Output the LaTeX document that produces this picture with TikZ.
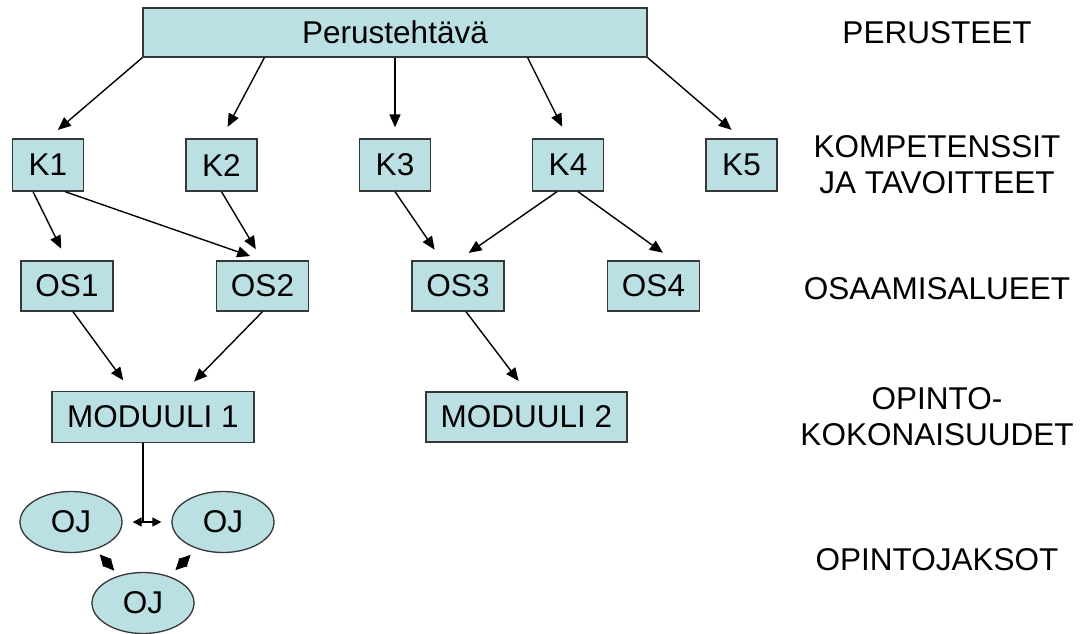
\documentclass[tikz,border=0pt]{standalone}
\usepackage{fontspec}
\setmainfont{Liberation Sans}
\usetikzlibrary{positioning,arrows.meta,shapes.geometric}
\definecolor{boxfill}{RGB}{187,224,227}
\definecolor{boxline}{RGB}{55,55,55}
\tikzset{
    box/.style={
           rectangle,
           draw=boxline, line width=1.3pt,
           fill=boxfill,
           inner sep=0pt,
           text centered,
           },
    jakso/.style={
           ellipse,
           draw=boxline, line width=1.3pt,
           fill=boxfill,
           inner sep=0pt,
           minimum width=102pt,
           minimum height=61pt,
           },
    taso/.style={align=center},
    nuoli/.style={-{Triangle[length=13pt,width=11pt]}, line width=1.4pt, shorten >=13pt},
    kaksinuoli/.style={{Triangle[length=9pt,width=9pt]}-{Triangle[length=9pt,width=9pt]}, line width=1.3pt},
    salmiakki/.style={{Triangle[length=11.5pt,width=11pt]}-{Triangle[length=11.5pt,width=11pt]}, line width=1.3pt},
}

\begin{document}
\begin{tikzpicture}[font=\fontsize{31.5}{36}\selectfont]
    \useasboundingbox[fill=white] (0,0) rectangle (1084pt,-633pt);

    % Top level: the basic task
    \node[box,    	% layout (defined above)
    minimum width=504pt, minimum height=49pt] (perustehtava)
    at (395pt,-32.5pt) {Perustehtävä};

    % Competences K1..K5
    \node[box, minimum width=71pt, minimum height=52pt,
    below of=perustehtava,
    node distance=132.5pt] (k3) {K3};
    \node[box, minimum width=71pt, minimum height=52pt,
    left of=k3,
    node distance=173.5pt] (k2) {K2};
    \node[box, minimum width=71pt, minimum height=52pt,
    left of=k2,
    node distance=173.5pt] (k1) {K1};
    \node[box, minimum width=71pt, minimum height=52pt,
    right of=k3,
    node distance=173pt] (k4) {K4};
    \node[box, minimum width=71pt, minimum height=52pt,
    right of=k4,
    node distance=173.5pt] (k5) {K5};

    % Areas of expertise OS1..OS4
    \node[box, minimum width=92pt, minimum height=50pt] (os1)
    at (67pt,-286pt) {OS1};
    \node[box, minimum width=92pt, minimum height=50pt,
    right of=os1,
    node distance=195.5pt] (os2) {OS2};
    \node[box, minimum width=92pt, minimum height=50pt,
    right of=os2,
    node distance=195.5pt] (os3) {OS3};
    \node[box, minimum width=92pt, minimum height=50pt,
    right of=os3,
    node distance=195.5pt] (os4) {OS4};

    % Modules
    \node[box, minimum width=202pt, minimum height=51pt] (moduuli1)
    at (153pt,-417pt) {MODUULI 1};
    \node[box, minimum width=201pt, minimum height=50pt,
    right of=moduuli1,
    node distance=373.5pt] (moduuli2) {MODUULI 2};

    % Courses
    \node[jakso] (ojleft) at (71pt,-522pt) {OJ};
    \node[jakso,
    right of=ojleft,
    node distance=152pt] (ojright) {OJ};
    \node[jakso] (ojbottom) at (143pt,-603pt) {OJ};

    % Level names on the right
    \node[taso] (perusteet) at (937pt,-33pt) {PERUSTEET};
    \node[taso, below of=perusteet, node distance=132pt] (kompetenssit)
    {KOMPETENSSIT\\JA TAVOITTEET};
    \node[taso, below of=kompetenssit, node distance=124pt] (osaamisalueet)
    {OSAAMISALUEET};
    \node[taso, below of=osaamisalueet, node distance=128pt] (opintokok)
    {OPINTO-\\KOKONAISUUDET};
    \node[taso, below of=opintokok, node distance=143pt] (opintojaksot)
    {OPINTOJAKSOT};

    % connectors between the levels
    \path
        (perustehtava.south west) edge[nuoli] (k1.north)
        ([xshift=122pt]perustehtava.south west) edge[nuoli] (k2.north)
        (perustehtava.south) edge[nuoli, shorten >=11pt] (k3.north)
        ([xshift=-120pt]perustehtava.south east) edge[nuoli] (k4.north)
        (perustehtava.south east) edge[nuoli] (k5.north)

        ([xshift=-15pt]k1.south) edge[nuoli] (os1.north)
        ([xshift=17pt]k1.south) edge[nuoli] (os2.north)
        (k2.south) edge[nuoli] (os2.north)
        (k3.south) edge[nuoli] ([xshift=-16pt]os3.north)
        ([xshift=-11pt]k4.south) edge[nuoli] (os3.north)
        ([xshift=10pt]k4.south) edge[nuoli] ([xshift=20pt]os4.north)

        ([xshift=6pt]os1.south) edge[nuoli] ([xshift=-22pt]moduuli1.north)
        (os2.south) edge[nuoli] ([xshift=32pt]moduuli1.north)
        ([xshift=8pt]os3.south) edge[nuoli] (moduuli2.north)

        (moduuli1.south -| ojbottom) edge[line width=1.1pt] (ojbottom |- ojleft)
        (ojleft) edge[kaksinuoli, shorten <=10pt, shorten >=10pt] (ojright)
        (ojleft) edge[salmiakki, shorten <=6.5pt, shorten >=6.5pt] (ojbottom)
        (ojright) edge[salmiakki, shorten <=8.5pt, shorten >=8.5pt] (ojbottom)
        ;
\end{tikzpicture}
\end{document}
